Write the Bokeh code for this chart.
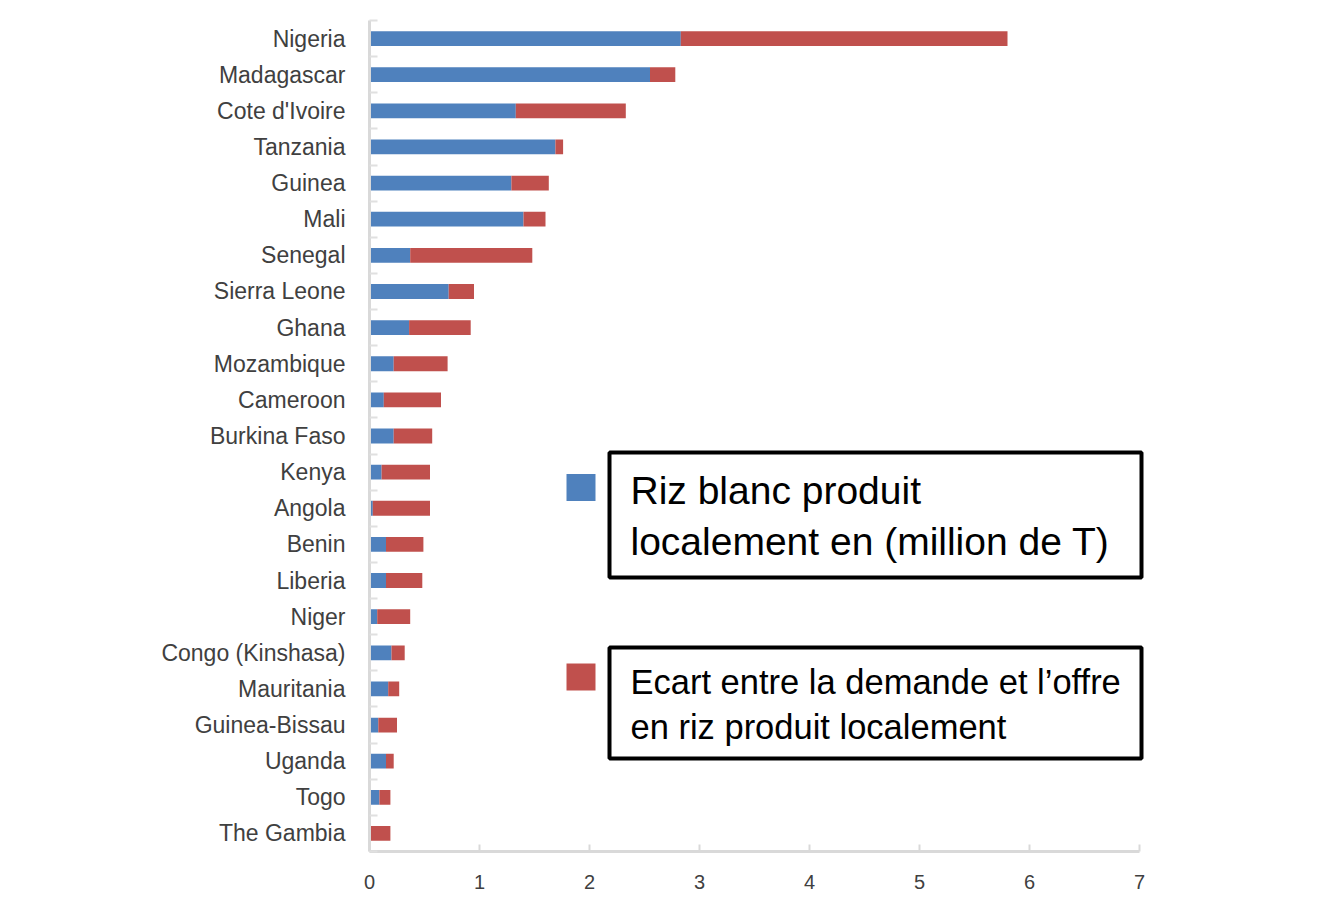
from bokeh.plotting import figure
from bokeh.models import ColumnDataSource, Range1d, FixedTicker, BoxAnnotation
from bokeh.core.properties import value
from bokeh.embed import file_html
from bokeh.resources import INLINE

# ---------------- data ----------------
countries = ["Nigeria", "Madagascar", "Cote d'Ivoire", "Tanzania", "Guinea", "Mali",
             "Senegal", "Sierra Leone", "Ghana", "Mozambique", "Cameroon", "Burkina Faso",
             "Kenya", "Angola", "Benin", "Liberia", "Niger", "Congo (Kinshasa)",
             "Mauritania", "Guinea-Bissau", "Uganda", "Togo", "The Gambia"]
local_rice = [2.83, 2.55, 1.33, 1.69, 1.29, 1.40,
              0.37, 0.72, 0.36, 0.22, 0.13, 0.22,
              0.11, 0.03, 0.15, 0.15, 0.07, 0.20,
              0.17, 0.08, 0.15, 0.09, 0.00]
gap = [2.97, 0.23, 1.00, 0.07, 0.34, 0.20,
       1.11, 0.23, 0.56, 0.49, 0.52, 0.35,
       0.44, 0.52, 0.34, 0.33, 0.30, 0.12,
       0.10, 0.17, 0.07, 0.10, 0.19]
x_ticks = [0, 1, 2, 3, 4, 5, 6, 7]
series_names = ["Riz blanc produit\nlocalement en (million de T)",
                "Ecart entre la demande et l\u2019offre\nen riz produit localement"]
series_colors = ["#4f81bd", "#c0504d"]

n = len(countries)
pos = list(range(n))
total = [a + b for a, b in zip(local_rice, gap)]
src = ColumnDataSource(dict(pos=pos, country=countries, local=local_rice, gap=gap, total=total))

W, H = 1325, 897
BL, BR, BT, BB = 369, 175, 20, 46

p = figure(width=W, height=H, output_backend="svg", toolbar_location=None,
           y_range=Range1d(n - 0.5, -0.5),
           x_range=Range1d(0, 7.1),
           min_border_left=BL, min_border_right=BR, min_border_top=BT, min_border_bottom=BB)
p.outline_line_color = None
p.background_fill_color = "white"
p.border_fill_color = "white"
p.xgrid.visible = False
p.ygrid.visible = False

p.hbar(y="pos", left=0, right="local", height=0.41, source=src,
       fill_color=series_colors[0], line_color=None)
p.hbar(y="pos", left="local", right="total", height=0.41, source=src,
       fill_color=series_colors[1], line_color=None)

# axes
xa = p.xaxis[0]
xa.ticker = FixedTicker(ticks=x_ticks)
xa.bounds = (0, 7)
xa.axis_line_color = "#d9d9d9"
xa.axis_line_width = 3
xa.major_tick_in = 7
xa.major_tick_out = 0
xa.major_tick_line_color = "#d9d9d9"
xa.major_tick_line_width = 2
xa.minor_tick_line_color = None
xa.major_label_text_font = "Liberation Sans"
xa.major_label_text_font_size = "20px"
xa.major_label_text_color = "#404040"
xa.major_label_standoff = 23

ya = p.yaxis[0]
ya.ticker = FixedTicker(ticks=pos, minor_ticks=[i - 0.5 for i in range(n + 1)])
ya.major_label_overrides = {i: c for i, c in zip(pos, countries)}
ya.axis_line_color = "#d9d9d9"
ya.axis_line_width = 3
ya.major_tick_line_color = None
ya.minor_tick_in = 8
ya.minor_tick_out = 0
ya.minor_tick_line_color = "#e0e0e0"
ya.minor_tick_line_width = 2
ya.major_label_text_font = "Liberation Sans"
ya.major_label_text_font_size = "23px"
ya.major_label_text_color = "#404040"
ya.major_label_standoff = 18

# pixel-like ranges for the legend boxes (page coordinates)
p.extra_x_ranges = {"px": Range1d(BL, W - BR)}
p.extra_y_ranges = {"py": Range1d(H - BB, BT)}

# slide decoration (light green edges)
for l, r, t, b in [(0, 10, 0, H), (0, W, 0, 4), (0, W, 893, H)]:
    p.add_layout(BoxAnnotation(left=l, right=r, top=t, bottom=b,
                               x_range_name="px", y_range_name="py",
                               fill_color="#c8efc4", fill_alpha=1.0, line_color=None))

# legend squares
p.rect(x=[580.5, 580.5], y=[487, 676.5], width=29, height=27,
       fill_color=series_colors, line_color=None, x_range_name="px", y_range_name="py")
# legend frames
p.rect(x=[875, 875], y=[514.5, 702.5], width=532, height=[125, 111],
       fill_color="white", line_color="black", line_width=4,
       x_range_name="px", y_range_name="py")

lines1 = series_names[0].split("\n")
lines2 = series_names[1].split("\n")
p.text(x=[630, 630], y=[490, 541], text=lines1, text_baseline="alphabetic",
       text_font=value("Liberation Sans"), text_font_size="39px", text_color="black",
       x_range_name="px", y_range_name="py")
p.text(x=[630, 630], y=[681, 726], text=lines2, text_baseline="alphabetic",
       text_font=value("Liberation Sans"), text_font_size="34.5px", text_color="black",
       x_range_name="px", y_range_name="py")

open("out.html", "w").write(file_html(p, INLINE))
